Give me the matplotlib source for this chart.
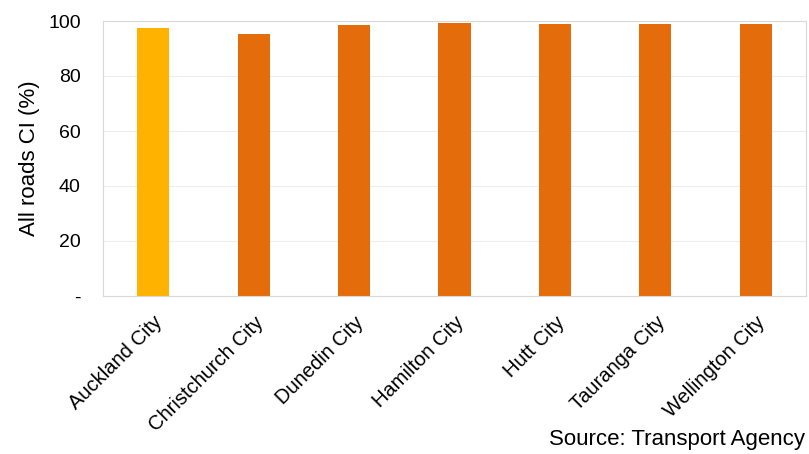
import matplotlib.pyplot as plt
import numpy as np

plt.rcParams["font.family"] = ["Liberation Sans", "DejaVu Sans"]

cities = [
    "Auckland City",
    "Christchurch City",
    "Dunedin City",
    "Hamilton City",
    "Hutt City",
    "Tauranga City",
    "Wellington City",
]
ci_percent = [97.6, 95.4, 98.4, 99.1, 98.9, 98.9, 98.9]
highlight = "Auckland City"

gold = "#FFB300"
orange = "#E46C0A"
colors = [gold if c == highlight else orange for c in cities]

fig = plt.figure(figsize=(8.09, 4.54), dpi=100)
ax = fig.add_axes([103 / 809, 1 - 296 / 454, 703 / 809, 275 / 454])

x = np.arange(len(cities))
ax.bar(x, ci_percent, width=0.32, color=colors, zorder=2)

ax.set_xlim(-0.5, len(cities) - 0.5)
ax.set_ylim(0, 100)
ax.set_yticks([0, 20, 40, 60, 80, 100])
ax.set_yticklabels(["-", "20", "40", "60", "80", "100"])
ax.set_xticks(x)
ax.set_xticklabels(cities, rotation=45, ha="right", rotation_mode="anchor")
ax.tick_params(axis="both", length=0, labelsize=14, colors="black")
ax.tick_params(axis="x", labelsize=14.5, pad=12)
ax.tick_params(axis="y", pad=16)

ax.grid(axis="y", color="#EDEDED", linewidth=0.8, zorder=0)
for side in ax.spines.values():
    side.set_color("#D9D9D9")
    side.set_linewidth(0.8)

ax.set_ylabel("All roads CI (%)", fontsize=16, labelpad=6)

# source note sits in the bottom-right corner, kept inside the canvas
fig.text(805 / 809, 1 - 440 / 454, "Source: Transport Agency", fontsize=16,
         ha="right", va="center")

fig.savefig("out.png", dpi=100)
